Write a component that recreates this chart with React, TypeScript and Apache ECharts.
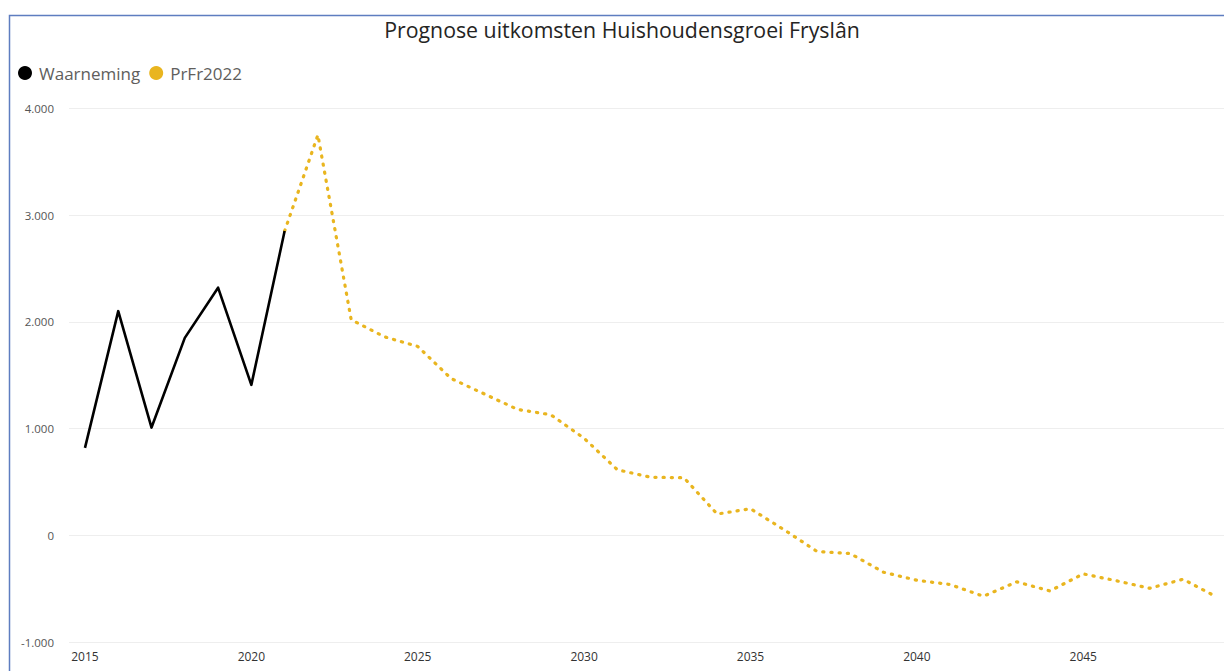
import React, { useEffect, useRef } from "react";
import * as echarts from "echarts";

const titleText = "Prognose uitkomsten Huishoudensgroei Fryslân";
const seriesNames = ["Waarneming", "PrFr2022"];

const obsYears = [2015, 2016, 2017, 2018, 2019, 2020, 2021];
const obsValues = [820, 2100, 1010, 1850, 2320, 1410, 2850];

const progYears = [
  2021, 2022, 2023, 2024, 2025, 2026, 2027, 2028, 2029, 2030,
  2031, 2032, 2033, 2034, 2035, 2036, 2037, 2038, 2039, 2040,
  2041, 2042, 2043, 2044, 2045, 2046, 2047, 2048, 2049,
];
const progValues = [
  2850, 3750, 2020, 1860, 1770, 1470, 1325, 1180, 1130, 910,
  615, 545, 540, 200, 250, 55, -150, -170, -345, -420,
  -460, -570, -435, -520, -360, -425, -495, -410, -575,
];

const xTickLabels = [2015, 2020, 2025, 2030, 2035, 2040, 2045];
const yTicks = [-1000, 0, 1000, 2000, 3000, 4000];

const FONT = "'Open Sans', 'Noto Sans', sans-serif";

function fmtNL(v: number): string {
  const s = Math.abs(v).toString().replace(/\B(?=(\d{3})+(?!\d))/g, ".");
  return (v < 0 ? "-" : "") + s;
}

export default function App() {
  const ref = useRef<HTMLDivElement>(null);

  useEffect(() => {
    if (!ref.current) return;
    const chart = echarts.init(ref.current, undefined, { renderer: "svg" });
    const obsData = obsYears.map((y, i) => [y, obsValues[i]]);
    const progData = progYears.map((y, i) => [y, progValues[i]]);

    chart.setOption({
      animation: false,
      backgroundColor: "#ffffff",
      textStyle: { fontFamily: FONT },
      title: {
        text: titleText,
        left: 622,
        top: 19,
        textAlign: "center",
        padding: 0,
        textStyle: {
          fontFamily: FONT,
          fontSize: 21.3,
          fontWeight: "normal",
          color: "#252423",
        },
      },
      legend: {
        left: 18,
        top: 64.5,
        padding: 0,
        icon: "circle",
        itemWidth: 14,
        itemHeight: 14,
        itemGap: 9,
        data: seriesNames,
        textStyle: { fontFamily: FONT, fontSize: 17, color: "#605E5C", padding: [0, 0, 0, 2] },
      },
      grid: {
        left: 69,
        right: 0,
        top: 108.3,
        bottom: 28.8,
        containLabel: false,
      },
      xAxis: {
        type: "value",
        min: 2014.52,
        max: 2049.23,
        axisLine: { show: false },
        axisTick: { show: false },
        splitLine: { show: false },
        axisLabel: {
          customValues: xTickLabels,
          formatter: (v: number) => String(v),
          color: "#333333",
          fontSize: 12,
          fontFamily: FONT,
          margin: 8,
        },
      },
      yAxis: {
        type: "value",
        min: yTicks[0],
        max: yTicks[yTicks.length - 1],
        interval: 1000,
        axisLine: { show: false },
        axisTick: { show: false },
        splitLine: { lineStyle: { color: "#EEEEEE", width: 1 } },
        axisLabel: {
          formatter: (v: number) => fmtNL(v),
          color: "#555555",
          fontSize: 11.5,
          fontFamily: FONT,
          margin: 15,
        },
      },
      graphic: [
        {
          type: "rect",
          left: 7,
          top: 13,
          shape: { x: 0, y: 0, width: 1400, height: 800 },
          style: { fill: "none", stroke: "#5E7DC0", lineWidth: 1.5 },
          silent: true,
        },
      ],
      series: [
        {
          name: seriesNames[0],
          type: "line",
          data: obsData,
          showSymbol: false,
          symbol: "none",
          color: "#000000",
          lineStyle: { color: "#000000", width: 2.6, join: "round" },
          z: 3,
        },
        {
          name: seriesNames[1],
          type: "line",
          data: progData,
          showSymbol: false,
          symbol: "none",
          color: "#E9B51F",
          lineStyle: {
            color: "#E9B51F",
            width: 3.2,
            type: [1.2, 7],
            cap: "round",
            join: "round",
          },
          z: 2,
        },
      ],
    });
    return () => chart.dispose();
  }, []);

  return (
    <div
      ref={ref}
      style={{ position: "fixed", left: 0, top: 0, width: 1224, height: 671, background: "#fff" }}
    />
  );
}
